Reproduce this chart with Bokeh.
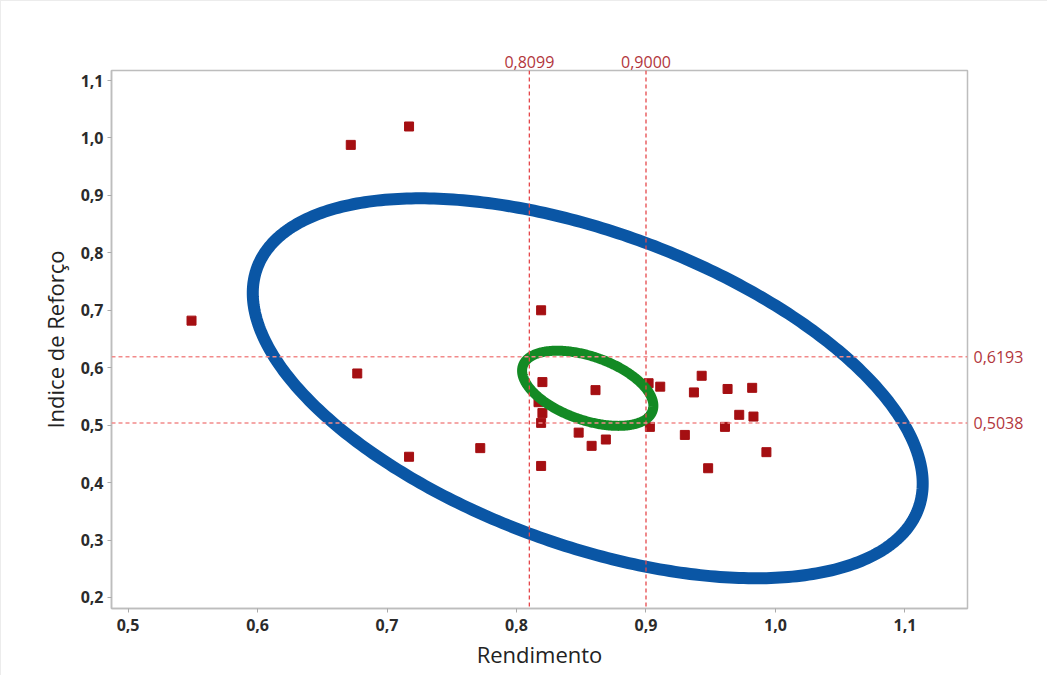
import numpy as np
from bokeh.plotting import figure
from bokeh.models import (Range1d, FixedTicker, CustomJSTickFormatter, Span,
                          LinearAxis)
from bokeh.embed import file_html
from bokeh.resources import INLINE

# ---- data ----
rendimento = [0.672, 0.717, 0.549, 0.819, 0.677, 0.717, 0.772,
              0.820, 0.817, 0.820, 0.819, 0.819, 0.861, 0.848, 0.858, 0.869,
              0.902, 0.911, 0.903, 0.930, 0.937, 0.943, 0.948, 0.961, 0.963,
              0.972, 0.982, 0.983, 0.993]
indice = [0.988, 1.020, 0.682, 0.700, 0.590, 0.445, 0.460,
          0.575, 0.540, 0.521, 0.504, 0.429, 0.561, 0.487, 0.464, 0.475,
          0.573, 0.567, 0.497, 0.483, 0.557, 0.586, 0.425, 0.497, 0.563,
          0.518, 0.565, 0.515, 0.453]

x_ticks = [0.5, 0.6, 0.7, 0.8, 0.9, 1.0, 1.1]
y_ticks = [0.2, 0.3, 0.4, 0.5, 0.6, 0.7, 0.8, 0.9, 1.0, 1.1]

x_limits = [0.8099, 0.9000]
y_limits = [0.6193, 0.5038]

# ellipse parameters: center, x half-width, y coupling terms
ell_center = (0.855, 0.5642)
outer_ell = (0.2587, -0.1658, 0.2862)
inner_ell = (0.0507, -0.0305, 0.0579)

FONT = "Open Sans"
VLINE_COLOR = "#E5484B"
HLINE_COLOR = "#F28A8A"
LIMIT_TEXT = "#B2363C"

p = figure(width=1047, height=675, output_backend="svg", toolbar_location=None,
           x_range=Range1d(0.4872, 1.1483), y_range=Range1d(0.1808, 1.1175),
           min_border_left=110, min_border_right=81, min_border_top=69,
           min_border_bottom=68)
p.styles = {"border-top": "1px solid #ececec", "border-left": "1px solid #ececec"}

p.xgrid.visible = False
p.ygrid.visible = False
p.outline_line_color = "#BDBDBD"
p.outline_line_width = 1.5

fmt = CustomJSTickFormatter(code="return tick.toFixed(1).replace('.', ',');")
for ax, ticks in ((p.xaxis, x_ticks), (p.yaxis, y_ticks)):
    ax.ticker = FixedTicker(ticks=ticks)
    ax.formatter = fmt
    ax.axis_line_color = "#BDBDBD"
    ax.axis_line_width = 1.5
    ax.major_tick_line_color = "#AAAAAA"
    ax.major_tick_out = 4
    ax.major_tick_in = 0
    ax.minor_tick_line_color = None
    ax.major_label_text_font = FONT
    ax.major_label_text_font_size = "16px"
    ax.major_label_text_color = "#2b2b2b"
    ax.major_label_text_font_style = "bold"
    ax.axis_label_text_font = FONT
    ax.axis_label_text_font_size = "22px"
    ax.axis_label_text_font_style = "normal"
    ax.axis_label_text_color = "#222222"

p.xaxis.axis_label = "Rendimento"
p.yaxis.axis_label = "Indice de Reforço"
p.xaxis.major_label_standoff = 6
p.yaxis.major_label_standoff = 4
p.xaxis.axis_label_standoff = 5
p.yaxis.axis_label_standoff = 8

# limit labels as secondary axes outside the frame
lim_fmt = CustomJSTickFormatter(code="return tick.toFixed(4).replace('.', ',');")
for loc, ticks, standoff in (("above", x_limits, 3), ("right", y_limits, 6)):
    ax = LinearAxis(ticker=FixedTicker(ticks=ticks), formatter=lim_fmt,
                    axis_line_color=None, major_tick_line_color=None,
                    minor_tick_line_color=None, major_tick_out=0, major_tick_in=0,
                    major_label_standoff=standoff,
                    major_label_text_font=FONT, major_label_text_font_size="16px",
                    major_label_text_font_style="normal",
                    major_label_text_color=LIMIT_TEXT)
    p.add_layout(ax, loc)

# points
p.scatter(rendimento, indice, marker="square", size=9,
          fill_color="#A50F12", line_color="#A50F12")

# reference lines
for xv in x_limits:
    p.add_layout(Span(location=xv, dimension="height", line_color=VLINE_COLOR,
                      line_dash="4 3", line_width=1.3))
for yv in y_limits:
    p.add_layout(Span(location=yv, dimension="width", line_color=HLINE_COLOR,
                      line_dash="4 3", line_width=1.5))

# ellipses
t = np.linspace(0, 2 * np.pi, 400)
def ell(params):
    a, b, c = params
    return (ell_center[0] + a * np.cos(t),
            ell_center[1] + b * np.cos(t) + c * np.sin(t))

ox, oy = ell(outer_ell)
p.line(ox, oy, line_color="#0A56A5", line_width=12, line_join="round", line_cap="round")
ix, iy = ell(inner_ell)
p.line(ix, iy, line_color="#138A24", line_width=10, line_join="round", line_cap="round")

open("out.html", "w").write(file_html(p, INLINE))
